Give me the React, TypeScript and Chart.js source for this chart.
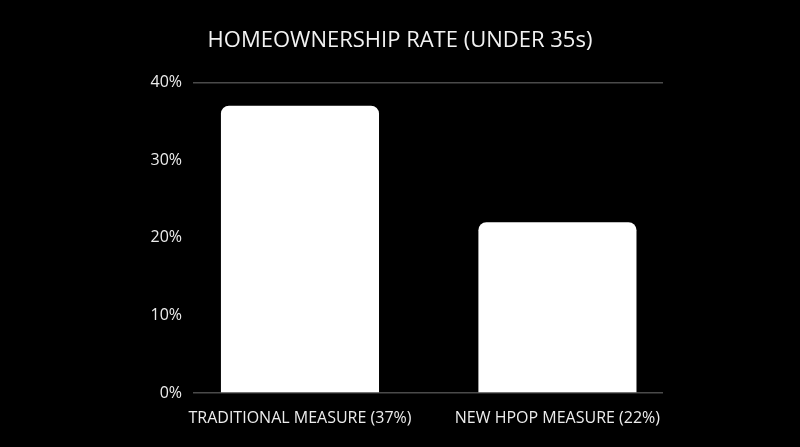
import { useEffect, useRef } from 'react';
import { Chart, registerables } from 'chart.js';

Chart.register(...registerables);

const title = 'HOMEOWNERSHIP RATE (UNDER 35s)';
const categories = ['TRADITIONAL MEASURE (37%)', 'NEW HPOP MEASURE (22%)'];
const rates = [37, 22];
const yTicks = [0, 10, 20, 30, 40];

const FONT = '"Open Sans", "Noto Sans", sans-serif';

export default function App() {
  const chartRef = useRef<HTMLCanvasElement>(null);
  const chartInstance = useRef<Chart | null>(null);

  useEffect(() => {
    document.body.style.margin = '0';
    if (!chartRef.current) return;
    const ctx = chartRef.current.getContext('2d');
    if (!ctx) return;

    chartInstance.current = new Chart(ctx, {
      type: 'bar',
      data: {
        datasets: [
          {
            data: rates.map((v, i) => ({ x: i, y: v })),
            backgroundColor: '#ffffff',
            borderRadius: 8,
            barPercentage: 0.614,
            categoryPercentage: 1,
          },
        ],
      },
      options: {
        animation: false,
        responsive: true,
        maintainAspectRatio: false,
        layout: { padding: 0 },
        plugins: {
          legend: { display: false },
          tooltip: { enabled: false },
          title: {
            display: true,
            text: title,
            color: '#f2f2f2',
            font: { family: FONT, size: 22, weight: 'normal' },
            padding: { top: 28, bottom: 28 },
          },
        },
        scales: {
          x: {
            type: 'linear',
            offset: false,
            min: -0.4155,
            max: 1.41,
            grid: { display: false },
            border: { display: false },
            afterFit: (scale: any) => {
              scale.height = 54;
            },
            afterBuildTicks: (scale: any) => {
              scale.ticks = categories.map((_, i) => ({ value: i }));
            },
            ticks: {
              color: '#ececec',
              font: { family: FONT, size: 16 },
              padding: 8,
              maxRotation: 0,
              autoSkip: false,
              callback: (v: any) => categories[Number(v)] ?? '',
            },
          },
          y: {
            min: 0,
            max: 40,
            afterFit: (scale: any) => {
              scale.width = 193;
            },
            afterBuildTicks: (scale: any) => {
              scale.ticks = yTicks.map((v) => ({ value: v }));
            },
            border: { display: false },
            grid: {
              drawTicks: false,
              lineWidth: 1.5,
              color: (c: any) =>
                c.tick && (c.tick.value === 0 || c.tick.value === 40) ? '#4a4a4a' : 'rgba(0,0,0,0)',
            },
            ticks: {
              color: '#ececec',
              font: { family: FONT, size: 16 },
              padding: 11,
              callback: (v: any) => v + '%',
            },
          },
          yRight: {
            position: 'right',
            min: 0,
            max: 40,
            grid: { display: false },
            border: { display: false },
            ticks: { display: false },
            afterFit: (scale: any) => {
              scale.width = 137;
            },
          },
        },
      },
    });

    return () => {
      if (chartInstance.current) {
        chartInstance.current.destroy();
      }
    };
  }, []);

  return (
    <div style={{ width: 800, height: 447, background: '#000' }}>
      <canvas ref={chartRef} />
    </div>
  );
}
